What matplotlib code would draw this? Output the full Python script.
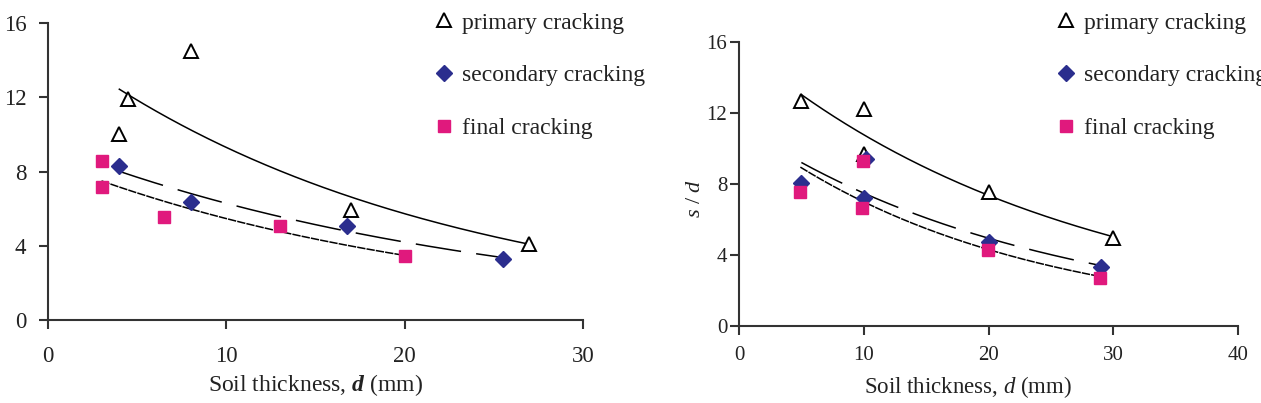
import numpy as np
import matplotlib
matplotlib.use("Agg")
import matplotlib.pyplot as plt
from matplotlib.lines import Line2D

plt.rcParams['font.family'] = ['Liberation Serif', 'DejaVu Serif']
plt.rcParams['mathtext.fontset'] = 'custom'
plt.rcParams['mathtext.rm'] = 'Liberation Serif'
plt.rcParams['mathtext.it'] = 'Liberation Serif:italic'
plt.rcParams['mathtext.bf'] = 'Liberation Serif:bold:italic'
plt.rcParams['lines.scale_dashes'] = False

# ---------------- data: left panel ----------------
L_primary_x = [4.0, 4.5, 8.0, 17.0, 27.0]
L_primary_y = [10.0, 11.9, 14.5, 5.9, 4.1]
L_secondary_x = [4.0, 8.0, 16.75, 25.5]
L_secondary_y = [8.3, 6.33, 5.08, 3.29]
L_final_x = [3.0, 3.0, 6.5, 13.0, 20.0]
L_final_y = [8.57, 7.19, 5.53, 5.04, 3.47]

# ---------------- data: right panel ----------------
R_primary_x = [5.0, 10.0, 10.0, 20.0, 30.0]
R_primary_y = [12.7, 12.2, 9.7, 7.56, 4.93]
R_secondary_x = [5.0, 10.0, 10.2, 20.0, 29.05]
R_secondary_y = [8.03, 7.19, 9.4, 4.75, 3.34]
R_final_x = [4.92, 9.84, 9.94, 19.94, 28.95]
R_final_y = [7.56, 6.62, 9.29, 4.28, 2.68]

legend_labels = ["primary cracking", "secondary cracking", "final cracking"]
L_xticks = [0, 10, 20, 30]
R_xticks = [0, 10, 20, 30, 40]
yticks = [0, 4, 8, 12, 16]

BLUE = '#2b2e8e'
MAGENTA = '#e0197d'
AXC = '#333333'

W, H = 1261, 403
fig = plt.figure(figsize=(W / 100, H / 100), dpi=100)

def px_axes(x0, y_top, x1, y_bot):
    return fig.add_axes([x0 / W, 1 - y_bot / H, (x1 - x0) / W, (y_bot - y_top) / H])

axL = px_axes(48, 23, 583, 320)
axR = px_axes(739, 42, 1238, 326)

def exp_trend(ax, x, y, **kw):
    x = np.asarray(x, float); y = np.asarray(y, float)
    b, lna = np.polyfit(x, np.log(y), 1)
    xs = np.linspace(x.min(), x.max(), 200)
    ax.plot(xs, np.exp(lna) * np.exp(b * xs), color='black', lw=1.1, zorder=2, **kw)

def style(ax, xmax, xticks, tick_fs):
    for s in ['top', 'right']:
        ax.spines[s].set_visible(False)
    for s in ['left', 'bottom']:
        ax.spines[s].set_linewidth(1.5)
        ax.spines[s].set_color(AXC)
    ax.set_xlim(0, xmax)
    ax.set_ylim(0, 16)
    ax.set_xticks(xticks)
    ax.set_yticks(yticks)
    ax.tick_params(direction='out', length=6.5, width=1.5, color=AXC,
                   labelsize=tick_fs, labelcolor='#222222')

def draw(ax, px, py, sx, sy, fx, fy):
    exp_trend(ax, px, py, linestyle='-')
    exp_trend(ax, sx, sy, linestyle=(0, (33, 11)))
    exp_trend(ax, fx, fy, linestyle=(0, (6, 0.8)))
    ax.plot(px, py, linestyle='none', marker='^', ms=10, mfc='white', mec='black', mew=1.4, zorder=3, clip_on=False)
    ax.plot(sx, sy, linestyle='none', marker='D', ms=8.5, mfc=BLUE, mec=BLUE, zorder=3, clip_on=False)
    ax.plot(fx, fy, linestyle='none', marker='s', ms=8.5, mfc=MAGENTA, mec=MAGENTA, zorder=4, clip_on=False)

draw(axL, L_primary_x, L_primary_y, L_secondary_x, L_secondary_y, L_final_x, L_final_y)
draw(axR, R_primary_x, R_primary_y, R_secondary_x, R_secondary_y, R_final_x, R_final_y)

style(axL, 30, L_xticks, 16.5)
style(axR, 40, R_xticks, 15)
axL.tick_params(axis='y', pad=9)
axL.tick_params(axis='x', pad=12)
axR.tick_params(axis='y', pad=2)
axR.tick_params(axis='x', pad=8)

axL.set_xlabel(r'Soil thickness, $\mathbf{d}$ (mm)', fontsize=17, labelpad=4, color='#222222')
axR.set_xlabel(r'Soil thickness, $\mathit{d}$ (mm)', fontsize=16.5, color='#222222')
axR.xaxis.set_label_coords(0.46, -0.17)
axR.set_ylabel(r'$\mathit{s}$ / $\mathit{d}$', fontsize=16, color='#222222')
axR.yaxis.set_label_coords(-0.068, 0.45)

handles = [
    Line2D([], [], linestyle='none', marker='^', ms=9.5, mfc='white', mec='black', mew=1.4),
    Line2D([], [], linestyle='none', marker='D', ms=8, mfc=BLUE, mec=BLUE),
    Line2D([], [], linestyle='none', marker='s', ms=8.5, mfc=MAGENTA, mec=MAGENTA),
]

def legend_at(x_px, y_px):
    leg = fig.legend(handles, legend_labels, loc='upper left',
                     bbox_to_anchor=(x_px / W, 1 - y_px / H),
                     frameon=False, fontsize=17, handlelength=0.6,
                     handletextpad=0.45, labelspacing=1.33, borderpad=0,
                     borderaxespad=0)
    for t in leg.get_texts():
        t.set_color('#222222')
    return leg

legend_at(437, 12)
legend_at(1059, 12)

fig.savefig('out.png', dpi=100)
